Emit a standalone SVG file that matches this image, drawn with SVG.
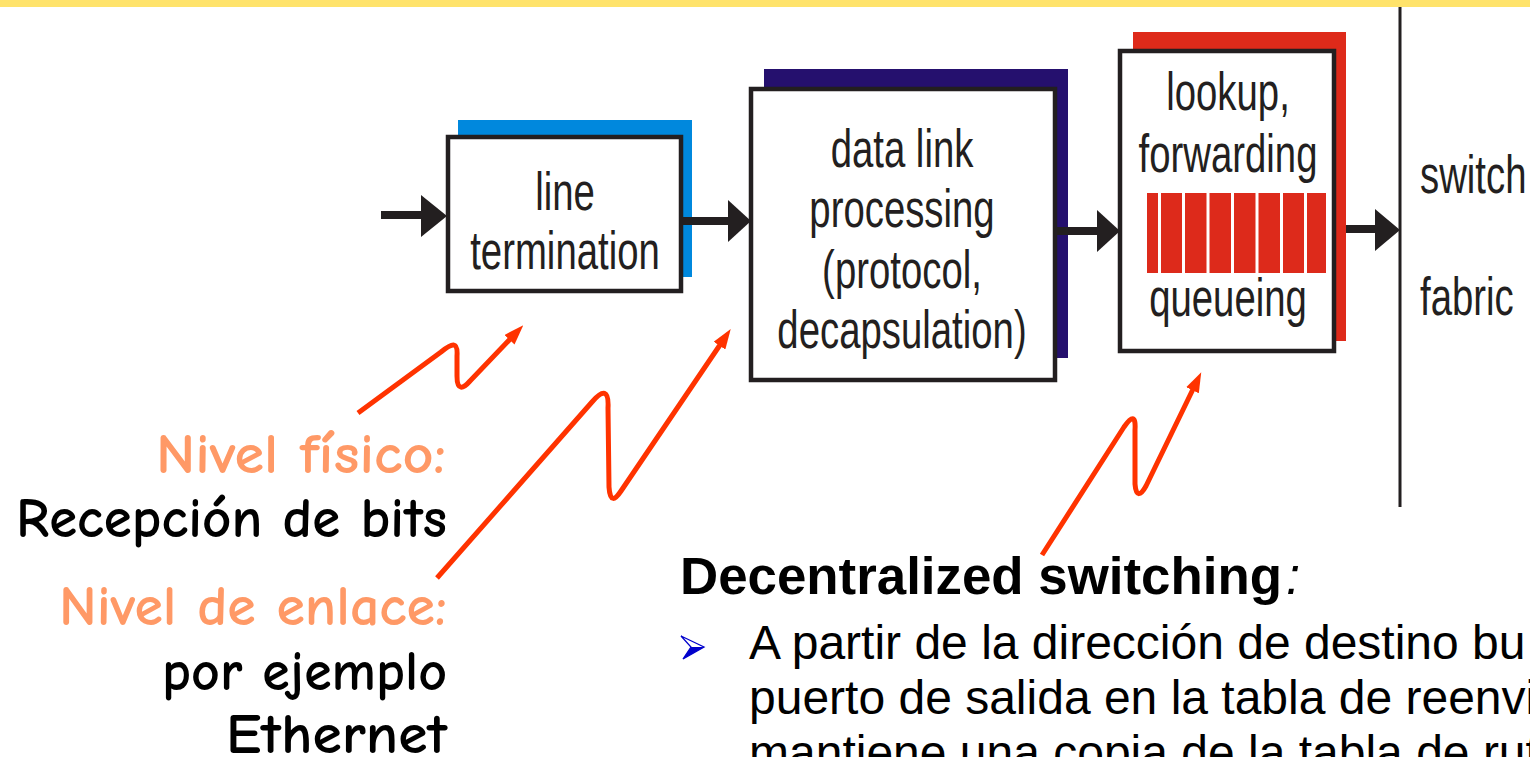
<svg xmlns="http://www.w3.org/2000/svg" width="1530" height="757" viewBox="0 0 1530 757">
<style>
.box{fill:#fff;stroke:#231F20;stroke-width:4.5}
.bt{font-family:"Liberation Sans",Arial,sans-serif;font-size:54px;fill:#231F20;text-anchor:middle}
.bt2{font-family:"Liberation Sans",Arial,sans-serif;font-size:54px;fill:#231F20}
.conn{stroke:#231F20;stroke-width:8;fill:none}
.head{fill:#231F20}
.sq{fill:none;stroke:#FF3300;stroke-width:5;stroke-linejoin:round}
.hw{font-family:"Comic Sans MS","Comic Neue","DejaVu Sans",sans-serif;font-size:56px;font-weight:bold;text-anchor:end}
.or{fill:#FF9966}
.bk{fill:#000}
.body{font-family:"Liberation Sans",Arial,sans-serif;font-size:48px;fill:#000}
.bar{fill:#DD2A1B}
</style>
<defs>
<marker id="rh" markerUnits="userSpaceOnUse" markerWidth="20" markerHeight="14" refX="8" refY="7" orient="auto">
<path d="M0,0 L20,7 L0,14 z" fill="#FF3300"/>
</marker>
</defs>
<rect x="0" y="0" width="1530" height="7" fill="#FFE36B"/>
<g id="fabric">
<line x1="1400" y1="7" x2="1400" y2="507" stroke="#231F20" stroke-width="3"/>
<text class="bt2" transform="translate(1420,193) scale(0.71,1)">switch</text>
<text class="bt2" transform="translate(1420,315) scale(0.71,1)">fabric</text>
</g>
<g id="line-termination">
<rect x="458" y="120" width="234" height="157" fill="#0088DD"/>
<rect class="box" x="448" y="137" width="233" height="154"/>
<text class="bt" transform="translate(565,210) scale(0.71,1)">line</text>
<text class="bt" transform="translate(565,269) scale(0.71,1)">termination</text>
</g>
<g id="data-link">
<rect x="764" y="69" width="304" height="289" fill="#25106E"/>
<rect class="box" x="751" y="89" width="304" height="291"/>
<text class="bt" transform="translate(902,167) scale(0.71,1)">data link</text>
<text class="bt" transform="translate(902,227) scale(0.71,1)">processing</text>
<text class="bt" transform="translate(902,288) scale(0.71,1)">(protocol,</text>
<text class="bt" transform="translate(902,348) scale(0.71,1)">decapsulation)</text>
</g>
<g id="lookup">
<rect x="1133" y="32" width="213" height="309" fill="#DE2A1A"/>
<rect class="box" x="1120" y="51" width="214" height="300"/>
<text class="bt" transform="translate(1228,110) scale(0.71,1)">lookup,</text>
<text class="bt" transform="translate(1228,172) scale(0.71,1)">forwarding</text>
<rect class="bar" x="1147" y="193" width="11" height="80"/>
<rect class="bar" x="1161" y="193" width="21" height="80"/>
<rect class="bar" x="1185" y="193" width="21.5" height="80"/>
<rect class="bar" x="1209.5" y="193" width="21.5" height="80"/>
<rect class="bar" x="1234" y="193" width="21.5" height="80"/>
<rect class="bar" x="1258.5" y="193" width="21.5" height="80"/>
<rect class="bar" x="1283" y="193" width="21" height="80"/>
<rect class="bar" x="1307" y="193" width="19" height="80"/>
<text class="bt" transform="translate(1228,316) scale(0.71,1)">queueing</text>
</g>
<g id="connectors">
<line class="conn" x1="381" y1="215" x2="425" y2="215"/>
<polygon class="head" points="421,195 447,216 421,237"/>
<line class="conn" x1="681" y1="221" x2="731" y2="221"/>
<polygon class="head" points="728,200 751,221 728,242"/>
<line class="conn" x1="1055" y1="231" x2="1101" y2="231"/>
<polygon class="head" points="1097,210 1120,231 1097,252"/>
<line class="conn" x1="1346" y1="229" x2="1378" y2="229"/>
<polygon class="head" points="1375,209 1400,230 1375,251"/>
<path class="sq" marker-end="url(#rh)" d="M358,413 L441,352 C452,343 458,341 457,356 L457,376 C457,391 463,389 470,381 L515,334"/>
<path class="sq" marker-end="url(#rh)" d="M437,578 L592,402 C603,389 609,390 608,408 L609,487 C610,503 615,500 621,491 L724,339"/>
<path class="sq" marker-end="url(#rh)" d="M1042,555 L1124,427 C1131,417 1136,414 1135,430 L1135,484 C1136,498 1141,495 1146,486 L1196,383"/>
</g>
<g id="labels">
<text class="hw or" x="446" y="473" textLength="290" lengthAdjust="spacingAndGlyphs">Nivel físico:</text>
<text class="hw bk" x="447" y="537" textLength="431" lengthAdjust="spacingAndGlyphs">Recepción de bits</text>
<text class="hw or" x="447" y="625" textLength="388" lengthAdjust="spacingAndGlyphs">Nivel de enlace:</text>
<text class="hw bk" x="447" y="690" textLength="285" lengthAdjust="spacingAndGlyphs">por ejemplo</text>
<text class="hw bk" x="447" y="753" textLength="221" lengthAdjust="spacingAndGlyphs">Ethernet</text>
</g>
<g id="description">
<text x="680" y="594" font-family="Liberation Sans, Arial, sans-serif" font-size="51" font-weight="bold" fill="#000" textLength="602" lengthAdjust="spacingAndGlyphs">Decentralized switching</text>
<text x="1286" y="594" font-family="Liberation Sans, Arial, sans-serif" font-size="51" font-style="italic" fill="#000">:</text>
<polygon points="681,636 704,647 683,659 691,647" fill="#fff" stroke="#0000CC" stroke-width="1.3" stroke-linejoin="miter"/>
<polygon points="691,647 704,647 683,659" fill="#0000CC"/>
<text class="body" x="749" y="659">A partir de la dirección de destino bu</text>
<text class="body" x="749" y="714">puerto de salida en la tabla de reenvi</text>
<text class="body" x="749" y="769">mantiene una copia de la tabla de rut</text>
</g>
</svg>
